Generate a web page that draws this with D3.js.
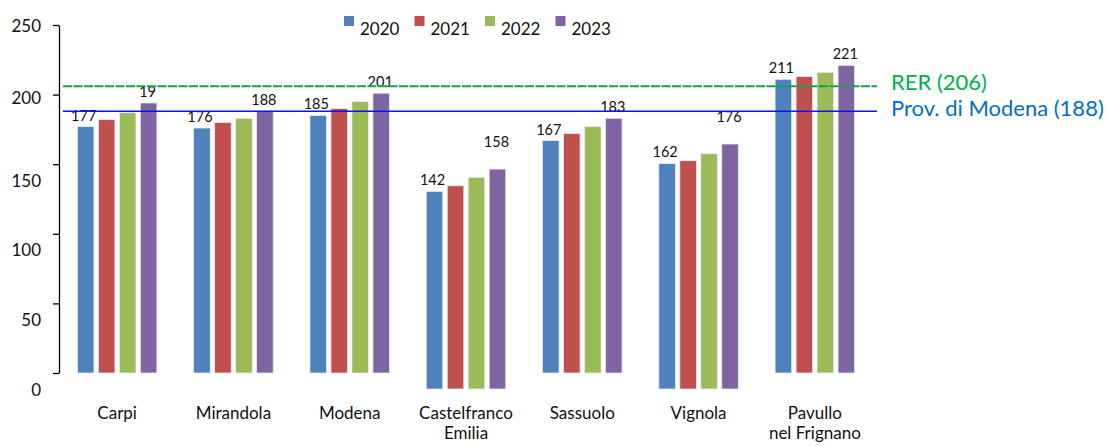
<!DOCTYPE html>
<html>
<head>
<meta charset="utf-8">
<script src="https://cdn.jsdelivr.net/npm/d3@7"></script>
<style>
  html, body { margin: 0; padding: 0; background: #fff; }
  svg { display: block; font-family: Lato, "Noto Sans", sans-serif; }
</style>
</head>
<body>
<svg id="chart" width="1109" height="446"></svg>
<script>
// Districts of the province of Modena
const categories = ["Carpi", "Mirandola", "Modena", "Castelfranco Emilia", "Sassuolo", "Vignola", "Pavullo nel Frignano"];
const categoryLines = [["Carpi"], ["Mirandola"], ["Modena"], ["Castelfranco", "Emilia"], ["Sassuolo"], ["Vignola"], ["Pavullo", "nel Frignano"]];
const years = ["2020", "2021", "2022", "2023"];

// Values per year
const v2020 = [177, 176, 185, 142, 167, 162, 211];
const v2021 = [182, 180, 190, 146, 172, 164, 213];
const v2022 = [187, 183, 195, 152, 177, 169, 216];
const v2023 = [194, 188, 201, 158, 183, 176, 221];

// Printed labels (first and last year only)
const labels2020 = ["177", "176", "185", "142", "167", "162", "211"];
const labels2023 = ["19", "188", "201", "158", "183", "176", "221"];

// Reference levels
const refRER = 206;
const refProv = 188;
const refLabels = ["RER (206)", "Prov. di Modena (188)"];

const yTicks = [0, 50, 100, 150, 200, 250];

const series = [v2020, v2021, v2022, v2023];
const colors = ["#4F81BD", "#C0504D", "#9BBB59", "#8064A2"];

const svg = d3.select("#chart");

const y = d3.scaleLinear().domain([0, 250]).range([373, 25]);
const x0 = d3.scaleBand().domain(categories).range([59, 873]).paddingInner(0.316).paddingOuter(0.158);
const x1 = d3.scaleBand().domain(years).range([0, x0.bandwidth()]).paddingInner(0.21);
const color = d3.scaleOrdinal().domain(years).range(colors);

// Groups drawn on a lowered baseline
const lowered = new Set(["Castelfranco Emilia", "Vignola"]);
const lowerBy = 16;

// Y axis
const yAxis = d3.axisLeft(y).tickValues(yTicks).tickSize(6).tickSizeOuter(0).tickPadding(12);
const gy = svg.append("g").attr("transform", "translate(59,0)").call(yAxis);
gy.select(".domain").attr("stroke", "#000").attr("stroke-width", 1.3);
gy.selectAll(".tick line").attr("stroke", "#000").attr("stroke-width", 1.3);
gy.selectAll(".tick text")
  .attr("font-size", 17)
  .attr("fill", "#111")
  .attr("font-family", "Lato, sans-serif")
  .attr("dy", d => d <= 150 ? "1.3em" : (d === 200 ? "0.5em" : "0.38em"));

// Bars
const rows = categories.map((c, i) => ({ cat: c, i, vals: years.map((yr, k) => ({ year: yr, value: series[k][i] })) }));

const groups = svg.append("g").selectAll("g.grp").data(rows).join("g")
  .attr("class", "grp")
  .attr("transform", d => `translate(${x0(d.cat)},0)`);

groups.append("g")
  .attr("transform", d => `translate(0,${lowered.has(d.cat) ? lowerBy : 0})`)
  .selectAll("rect").data(d => d.vals).join("rect")
  .attr("x", d => x1(d.year))
  .attr("width", x1.bandwidth())
  .attr("y", d => y(d.value))
  .attr("height", d => y(0) - y(d.value))
  .attr("fill", d => color(d.year))
  .attr("stroke", "#e8ecf4")
  .attr("stroke-width", 0.8);

// Value labels
groups.append("text")
  .attr("x", x1("2020") + x1.bandwidth() / 2 - 2)
  .attr("y", d => y(d.vals[0].value) - 6 + (lowered.has(d.cat) ? lowerBy : 0))
  .attr("text-anchor", "middle")
  .attr("font-size", 14.5)
  .attr("fill", "#111")
  .text(d => labels2020[d.i]);

groups.append("text")
  .attr("x", x1("2023") + x1.bandwidth() / 2 - 1)
  .attr("y", d => y(d.vals[3].value) - 6)
  .attr("text-anchor", "middle")
  .attr("font-size", 14.5)
  .attr("fill", "#111")
  .text(d => labels2023[d.i]);

// Category labels
const catText = svg.append("g").selectAll("text").data(rows).join("text")
  .attr("x", d => x0(d.cat) + x0.bandwidth() / 2)
  .attr("y", 419)
  .attr("text-anchor", "middle")
  .attr("font-size", 17)
  .attr("fill", "#111");
catText.selectAll("tspan").data(d => categoryLines[d.i]).join("tspan")
  .attr("x", function () { return d3.select(this.parentNode).attr("x"); })
  .attr("dy", (d, k) => k === 0 ? 0 : 20)
  .text(d => d);

// Reference lines
svg.append("line")
  .attr("x1", 63).attr("x2", 877)
  .attr("y1", y(refRER)).attr("y2", y(refRER))
  .attr("stroke", "#12A34A").attr("stroke-width", 2)
  .attr("stroke-dasharray", "9,1.5");
svg.append("line")
  .attr("x1", 63).attr("x2", 877)
  .attr("y1", y(refProv)).attr("y2", y(refProv))
  .attr("stroke", "#1010F0").attr("stroke-width", 1.5);

svg.append("text")
  .attr("x", 891).attr("y", y(refRER) + 4)
  .attr("font-size", 22).attr("fill", "#00B050")
  .text(refLabels[0]);
svg.append("text")
  .attr("x", 891).attr("y", y(refProv) + 5)
  .attr("font-size", 22).attr("fill", "#0070C0")
  .text(refLabels[1]);

// Legend
const legend = svg.append("g").selectAll("g").data(years).join("g")
  .attr("transform", (d, k) => `translate(${344 + k * 70.5},0)`);
legend.append("rect")
  .attr("x", 0).attr("y", 16).attr("width", 10).attr("height", 10)
  .attr("fill", d => color(d));
legend.append("text")
  .attr("x", 16).attr("y", 35)
  .attr("font-size", 17).attr("fill", "#111")
  .text(d => d);
</script>
</body>
</html>
